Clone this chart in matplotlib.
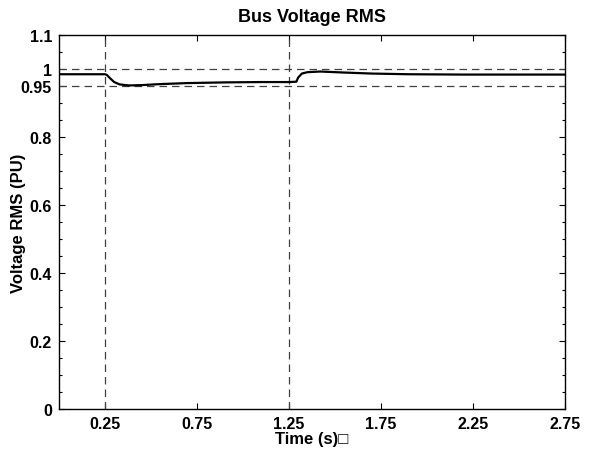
import matplotlib
matplotlib.use("Agg")
import matplotlib.pyplot as plt
import numpy as np

plt.rcParams['font.family'] = ['Liberation Sans', 'DejaVu Sans']
plt.rcParams['font.weight'] = 'bold'

# bus voltage rms trace (time in s, voltage in pu)
time_s = [0.0, 0.25, 0.26, 0.28, 0.30, 0.33, 0.38, 0.45, 0.55, 0.70, 0.90,
          1.10, 1.25, 1.29, 1.30, 1.32, 1.35, 1.42, 1.55, 1.70, 1.90, 2.20,
          2.50, 2.75]
voltage_pu = [0.985, 0.985, 0.983, 0.972, 0.962, 0.955, 0.952, 0.953, 0.956,
              0.959, 0.961, 0.962, 0.962, 0.963, 0.975, 0.987, 0.991, 0.993,
              0.990, 0.987, 0.985, 0.984, 0.984, 0.984]

# event markers and voltage limits
event_times = [0.25, 1.25]
limit_levels = [0.95, 1.0]

x_ticks = [0.25, 0.75, 1.25, 1.75, 2.25, 2.75]
y_ticks = [0, 0.2, 0.4, 0.6, 0.8, 0.95, 1, 1.1]
y_ticklabels = ['0', '0.2', '0.4', '0.6', '0.8', '0.95', '1', '1.1']

fig = plt.figure(figsize=(5.94, 4.52), dpi=100)
ax = fig.add_axes([0.0993, 0.093, 0.8517, 0.827])

for lv in limit_levels:
    ax.axhline(lv, color='0.25', lw=0.9, dashes=(6, 4))
for t in event_times:
    ax.axvline(t, color='0.25', lw=0.9, dashes=(6, 4))

ax.plot(time_s, voltage_pu, color='black', lw=1.6)

ax.set_xlim(0, 2.75)
ax.set_ylim(0, 1.1)
ax.set_xticks(x_ticks)
ax.set_xticklabels([str(v) for v in x_ticks])
ax.set_yticks(y_ticks)
ax.set_yticklabels(y_ticklabels)
ax.set_yticks(np.arange(0, 1.1, 0.05), minor=True)

ax.tick_params(which='both', direction='in', top=True, right=True,
               labelsize=11.5, width=0.8)
ax.tick_params(which='major', length=4, pad=5)
ax.tick_params(which='minor', length=2)
for s in ax.spines.values():
    s.set_linewidth(1.0)

ax.set_title('Bus Voltage RMS', fontsize=13, fontweight='bold', pad=10)
ax.set_xlabel('Time (s)\u25a1', fontsize=12, fontweight='bold', labelpad=0)
ax.set_ylabel('Voltage RMS (PU)', fontsize=12, fontweight='bold')
ax.yaxis.set_label_coords(-0.066, 0.5)

fig.savefig('out.png', dpi=100)
